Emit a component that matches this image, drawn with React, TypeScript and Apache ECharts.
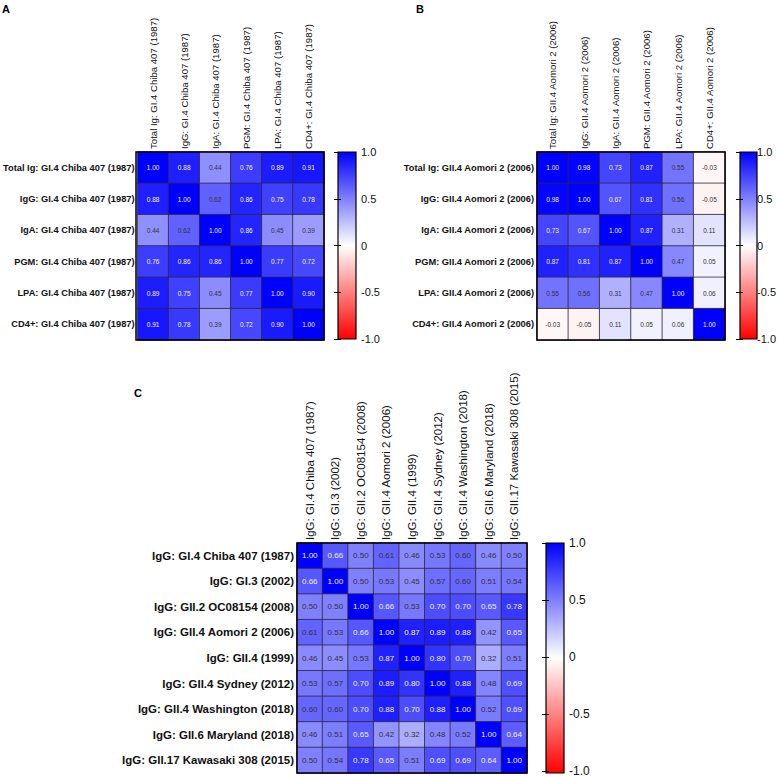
import React, { useEffect, useRef } from "react";
import * as echarts from "echarts";

const LABELS_A = [
  "Total Ig: GI.4 Chiba 407 (1987)",
  "IgG: GI.4 Chiba 407 (1987)",
  "IgA: GI.4 Chiba 407 (1987)",
  "PGM: GI.4 Chiba 407 (1987)",
  "LPA: GI.4 Chiba 407 (1987)",
  "CD4+: GI.4 Chiba 407 (1987)",
];
const MATRIX_A = [
  [1.0, 0.88, 0.44, 0.76, 0.89, 0.91],
  [0.88, 1.0, 0.62, 0.86, 0.75, 0.78],
  [0.44, 0.62, 1.0, 0.86, 0.45, 0.39],
  [0.76, 0.86, 0.86, 1.0, 0.77, 0.72],
  [0.89, 0.75, 0.45, 0.77, 1.0, 0.9],
  [0.91, 0.78, 0.39, 0.72, 0.9, 1.0],
];

const LABELS_B = [
  "Total Ig: GII.4 Aomori 2 (2006)",
  "IgG: GII.4 Aomori 2 (2006)",
  "IgA: GII.4 Aomori 2 (2006)",
  "PGM: GII.4 Aomori 2 (2006)",
  "LPA: GII.4 Aomori 2 (2006)",
  "CD4+: GII.4 Aomori 2 (2006)",
];
const MATRIX_B = [
  [1.0, 0.98, 0.73, 0.87, 0.55, -0.03],
  [0.98, 1.0, 0.67, 0.81, 0.56, -0.05],
  [0.73, 0.67, 1.0, 0.87, 0.31, 0.11],
  [0.87, 0.81, 0.87, 1.0, 0.47, 0.05],
  [0.55, 0.56, 0.31, 0.47, 1.0, 0.06],
  [-0.03, -0.05, 0.11, 0.05, 0.06, 1.0],
];

const LABELS_C = [
  "IgG: GI.4 Chiba 407 (1987)",
  "IgG: GI.3 (2002)",
  "IgG: GII.2 OC08154 (2008)",
  "IgG: GII.4 Aomori 2 (2006)",
  "IgG: GII.4 (1999)",
  "IgG: GII.4 Sydney (2012)",
  "IgG: GII.4 Washington (2018)",
  "IgG: GII.6 Maryland (2018)",
  "IgG: GII.17 Kawasaki 308 (2015)",
];
const MATRIX_C = [
  [1.0, 0.66, 0.5, 0.61, 0.46, 0.53, 0.6, 0.46, 0.5],
  [0.66, 1.0, 0.5, 0.53, 0.45, 0.57, 0.6, 0.51, 0.54],
  [0.5, 0.5, 1.0, 0.66, 0.53, 0.7, 0.7, 0.65, 0.78],
  [0.61, 0.53, 0.66, 1.0, 0.87, 0.89, 0.88, 0.42, 0.65],
  [0.46, 0.45, 0.53, 0.87, 1.0, 0.8, 0.7, 0.32, 0.51],
  [0.53, 0.57, 0.7, 0.89, 0.8, 1.0, 0.88, 0.48, 0.69],
  [0.6, 0.6, 0.7, 0.88, 0.7, 0.88, 1.0, 0.52, 0.69],
  [0.46, 0.51, 0.65, 0.42, 0.32, 0.48, 0.52, 1.0, 0.64],
  [0.5, 0.54, 0.78, 0.65, 0.51, 0.69, 0.69, 0.64, 1.0],
];

const SCALE_MIN = -1;
const SCALE_MAX = 1;
const SCALE_STEP = 0.5;

const FONT = "'Liberation Sans', Arial, Helvetica, sans-serif";

// layout boxes (pixels)
const HM = [
  { left: 136, top: 152, size: 188, rowFont: 9.3, colFont: 9.6, valFont: 6.5 },
  { left: 537, top: 152, size: 188, rowFont: 9.3, colFont: 9.6, valFont: 6.5 },
  { left: 297, top: 543, size: 230, rowFont: 11.5, colFont: 11.5, valFont: 8 },
];
const CB = [
  { left: 338, top: 152, width: 18, height: 187, font: 11 },
  { left: 740, top: 152, width: 17, height: 187, font: 11 },
  { left: 546, top: 543, width: 18, height: 230, font: 12 },
];

function toData(m: number[][]) {
  const out: any[] = [];
  m.forEach((row, r) =>
    row.forEach((v, c) => {
      out.push({
        value: [c, r, v],
        label: { color: v > 0.63 ? "#f2f2f2" : "#333333" },
      });
    })
  );
  return out;
}

export default function App() {
  const ref = useRef<HTMLDivElement>(null);
  useEffect(() => {
    if (!ref.current) return;
    const chart = echarts.init(ref.current, undefined, { renderer: "svg" });
    const labelSets = [LABELS_A, LABELS_B, LABELS_C];
    const mats = [MATRIX_A, MATRIX_B, MATRIX_C];

    const grids: any[] = [];
    const xAxes: any[] = [];
    const yAxes: any[] = [];
    const series: any[] = [];

    HM.forEach((h, i) => {
      grids.push({ left: h.left, top: h.top, width: h.size, height: h.size, containLabel: false });
      xAxes.push({
        type: "category",
        gridIndex: i,
        position: "top",
        data: labelSets[i],
        axisLine: { show: false },
        axisTick: { show: false },
        splitLine: { show: false },
        axisLabel: {
          rotate: -90,
          interval: 0,
          margin: 3,
          fontSize: h.colFont,
          fontFamily: FONT,
          color: "#111",
        },
      });
      yAxes.push({
        type: "category",
        gridIndex: i,
        inverse: true,
        data: labelSets[i],
        axisLine: { show: false },
        axisTick: { show: false },
        splitLine: { show: false },
        axisLabel: {
          interval: 0,
          margin: 3,
          fontSize: h.rowFont,
          fontWeight: "bold",
          fontFamily: FONT,
          color: "#111",
        },
      });
      series.push({
        type: "heatmap",
        xAxisIndex: i,
        yAxisIndex: i,
        data: toData(mats[i]),
        label: {
          show: true,
          fontSize: h.valFont,
          fontFamily: FONT,
          formatter: (p: any) => Number(p.value[2]).toFixed(2),
        },
        itemStyle: { borderColor: "#2a2a3a", borderWidth: 0.8 },
        emphasis: { disabled: true },
      });
    });

    CB.forEach((c, k) => {
      const gi = 3 + k;
      grids.push({ left: c.left, top: c.top, width: c.width, height: c.height });
      xAxes.push({ type: "value", gridIndex: gi, min: 0, max: 1, show: false });
      yAxes.push({
        type: "value",
        gridIndex: gi,
        position: "right",
        min: SCALE_MIN,
        max: SCALE_MAX,
        interval: SCALE_STEP,
        z: 5,
        axisLine: { show: false },
        axisTick: { show: true, inside: true, length: 4, lineStyle: { color: "#000", width: 1 } },
        splitLine: { show: false },
        axisLabel: {
          margin: 5,
          fontSize: c.font,
          fontFamily: FONT,
          color: "#111",
          formatter: (v: number) => (v === 0 ? "0" : v.toFixed(1)),
        },
      });
      yAxes.push({
        type: "value",
        gridIndex: gi,
        position: "left",
        min: SCALE_MIN,
        max: SCALE_MAX,
        interval: SCALE_STEP,
        z: 5,
        axisLine: { show: false },
        axisTick: { show: true, inside: true, length: 3, lineStyle: { color: "#000", width: 1 } },
        splitLine: { show: false },
        axisLabel: { show: false },
      });
    });

    const graphics: any[] = [];
    CB.forEach((c) => {
      graphics.push({
        type: "rect",
        z: 1,
        shape: { x: c.left, y: c.top, width: c.width, height: c.height },
        style: {
          fill: new echarts.graphic.LinearGradient(0, 0, 0, 1, [
            { offset: 0, color: "#0000ff" },
            { offset: 0.5, color: "#ffffff" },
            { offset: 1, color: "#ff0000" },
          ]),
        },
      });
      graphics.push({
        type: "rect",
        z: 100,
        shape: { x: c.left, y: c.top, width: c.width, height: c.height },
        style: { fill: "none", stroke: "#000", lineWidth: 1.2 },
      });
    });
    HM.forEach((h) => {
      graphics.push({
        type: "rect",
        z: 100,
        shape: { x: h.left, y: h.top, width: h.size, height: h.size },
        style: { fill: "none", stroke: "#000", lineWidth: 1.5 },
      });
    });
    const letters = [
      { t: "A", x: 2, y: 3 },
      { t: "B", x: 416, y: 3 },
      { t: "C", x: 134, y: 387 },
    ];
    letters.forEach((l) =>
      graphics.push({
        type: "text",
        x: l.x,
        y: l.y,
        style: { text: l.t, fontSize: 11, fontWeight: "bold", fontFamily: FONT, fill: "#000" },
      })
    );

    chart.setOption({
      animation: false,
      backgroundColor: "#ffffff",
      grid: grids,
      xAxis: xAxes,
      yAxis: yAxes,
      visualMap: {
        type: "continuous",
        show: false,
        min: SCALE_MIN,
        max: SCALE_MAX,
        dimension: 2,
        seriesIndex: [0, 1, 2],
        inRange: { color: ["#ff0000", "#ffffff", "#0000ff"] },
      },
      graphic: graphics,
      series,
    });
    return () => chart.dispose();
  }, []);
  return (
    <div
      ref={ref}
      style={{ position: "fixed", left: 0, top: 0, width: 779, height: 777 }}
    />
  );
}
